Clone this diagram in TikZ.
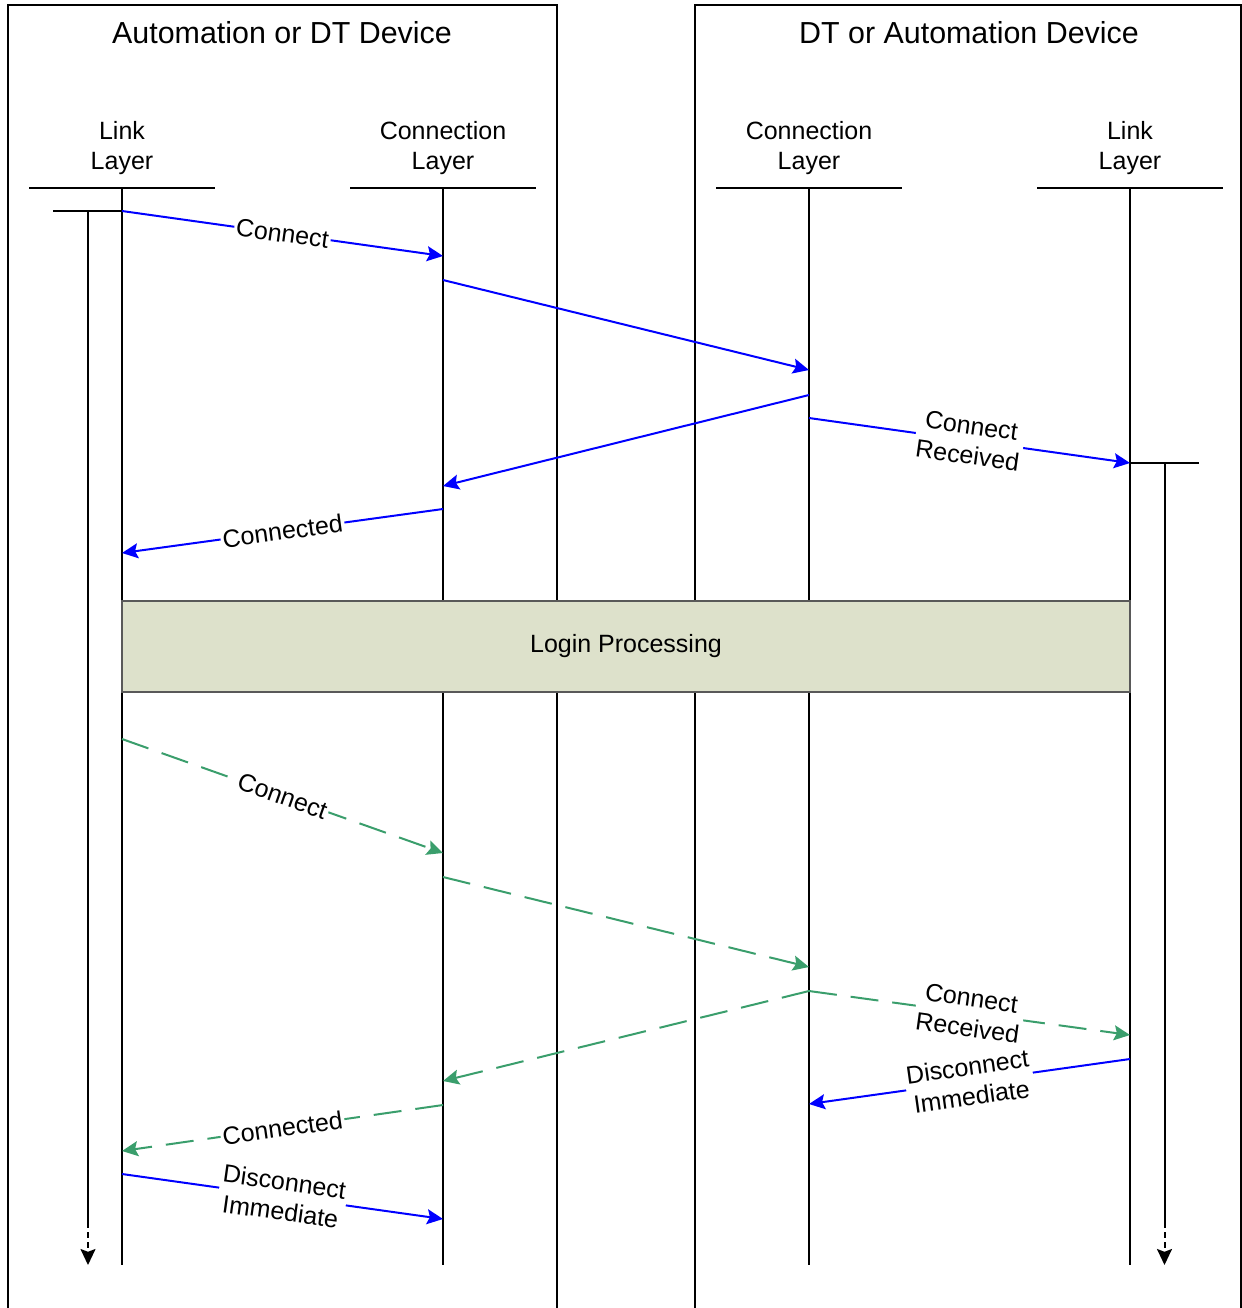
\documentclass[tikz,border=0pt]{standalone}
\usepackage{fontspec}
\setmainfont{Liberation Sans}
\usepackage{tikz}
\usetikzlibrary{arrows.meta,positioning,calc}

\definecolor{msgblue}{RGB}{0,0,255}
\definecolor{msggreen}{RGB}{58,158,108}
\definecolor{loginfill}{RGB}{221,225,203}

\begin{document}
\begin{tikzpicture}[x=0.5pt, y=-0.5pt, line width=1pt, >={Stealth[length=8pt,width=7.5pt,inset=1.4pt]}, node distance=160.5pt]
        \tikzstyle{every node}=[font=\fontsize{12.5}{15}\selectfont]
        \tikzstyle{title}=[font=\fontsize{15.2}{18}\selectfont, anchor=base]
        \tikzstyle{layer}=[align=center, text width=92pt, inner xsep=0pt, inner ysep=6pt]
        \tikzstyle{msg}=[->, color=msgblue]
        \tikzstyle{retry}=[->, color=msggreen, dash pattern=on 14pt off 7pt]
        \tikzstyle{lbl}=[sloped, fill=white, inner sep=1pt, align=center, text=black]
        \tikzstyle{login}=[draw=black!65, fill=loginfill, minimum width=504pt, minimum height=45.5pt]
        \useasboundingbox (0,0) rectangle (1242,1308);

        % the two devices
        \draw (8,1308) |- (557,5) -- (557,1308);
        \draw (695,1308) |- (1241,5) -- (1241,1308);
        \node[title]    (DA) at (282,43)        {Automation or DT Device};
        \node[title]    (DB) at (969,43)        {DT or Automation Device};

        % layer heads
        \node[layer,anchor=south]    (LA) at (122,188)       {Link\\Layer};
        \node[layer]    (CA)[right of=LA]                    {Connection\\Layer};
        \node[layer]    (CB)[right of=CA, node distance=183pt] {Connection\\Layer};
        \node[layer]    (LB)[right of=CB]                    {Link\\Layer};
        \draw (LA.south west) -- (LA.south east);
        \draw (CA.south west) -- (CA.south east);
        \draw (CB.south west) -- (CB.south east);
        \draw (LB.south west) -- (LB.south east);

        % lifelines
        \draw (LA.south) -- (LA.south |- 0,1265);
        \draw (CA.south) -- (CA.south |- 0,1265);
        \draw (CB.south) -- (CB.south |- 0,1265);
        \draw (LB.south) -- (LB.south |- 0,1265);

        % link activity
        \coordinate (TA) at (88,211);
        \coordinate (TB) at (1164.5,463);
        \draw (53,211) -- (LA |- TA);
        \draw (TA) -- (TA |- 0,1222);
        \draw[->, dash pattern=on 3pt off 2pt] (TA |- 0,1222) -- (TA |- 0,1265);
        \draw (LB |- TB) -- (1199,463);
        \draw (TB) -- (TB |- 0,1222);
        \draw[->, dash pattern=on 3pt off 2pt] (TB |- 0,1222) -- (TB |- 0,1265);

        % first connect
        \path
        (LA |- 0,211)   edge[msg]    node[lbl]{Connect}                 (CA |- 0,256)
        (CA |- 0,280)   edge[msg]                                       (CB |- 0,370)
        (CB |- 0,395)   edge[msg]                                       (CA |- 0,486)
        (CB |- 0,418)   edge[msg]    node[lbl]{Connect\\Received}       (LB |- 0,463)
        (CA |- 0,509)   edge[msg]    node[lbl]{Connected}               (LA |- 0,553);

        \node[login]    (LP) at (626,646.5)     {Login Processing};

        % second connect
        \path
        (LA |- 0,739)   edge[retry]  node[lbl]{Connect}                 (CA |- 0,853)
        (CA |- 0,877)   edge[retry]                                     (CB |- 0,967)
        (CB |- 0,991)   edge[retry]                                     (CA |- 0,1081)
        (CB |- 0,991)   edge[retry]  node[lbl]{Connect\\Received}       (LB |- 0,1035)
        (CA |- 0,1105)  edge[retry]  node[lbl]{Connected}               (LA |- 0,1151)
        (LB |- 0,1059)  edge[msg]    node[lbl]{Disconnect\\Immediate}   (CB |- 0,1104)
        (LA |- 0,1174)  edge[msg]    node[lbl]{Disconnect\\Immediate}   (CA |- 0,1219);
\end{tikzpicture}
\end{document}
